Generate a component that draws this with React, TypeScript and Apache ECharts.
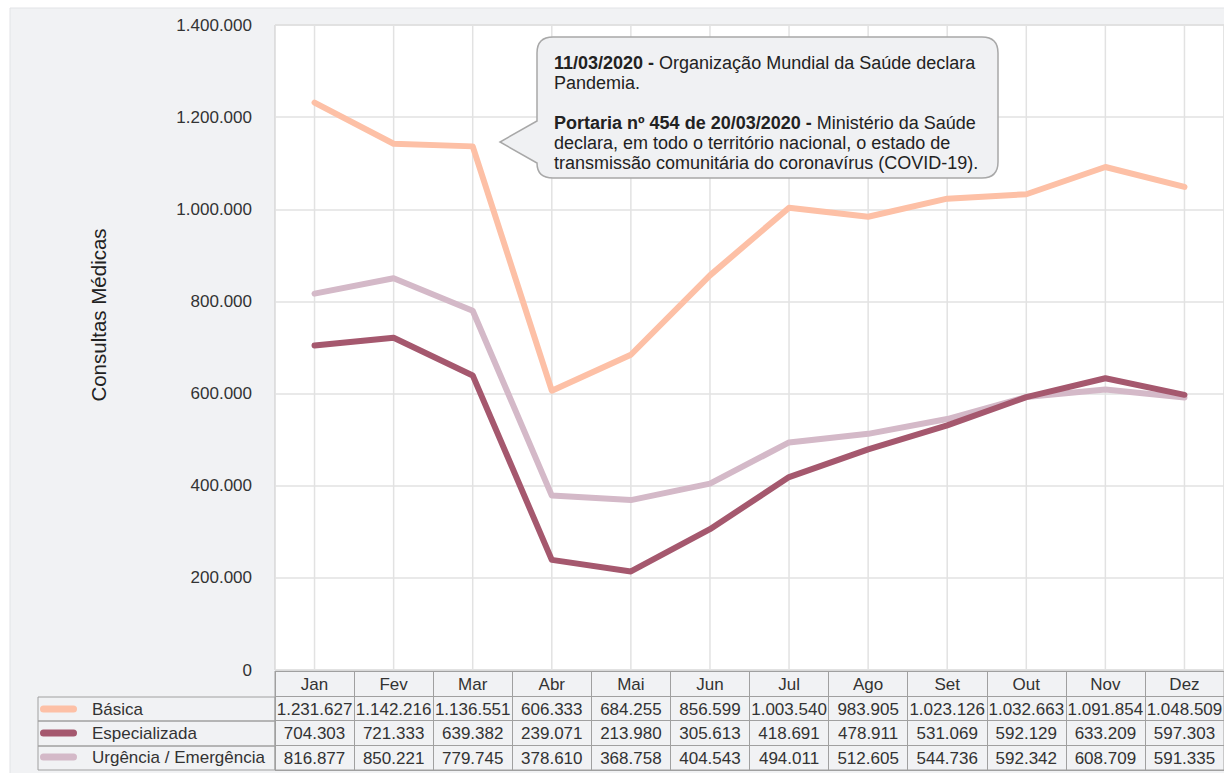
import React, { useEffect, useRef } from "react";
import * as echarts from "echarts";

const months = ["Jan", "Fev", "Mar", "Abr", "Mai", "Jun", "Jul", "Ago", "Set", "Out", "Nov", "Dez"];
const basica = [1231627, 1142216, 1136551, 606333, 684255, 856599, 1003540, 983905, 1023126, 1032663, 1091854, 1048509];
const especializada = [704303, 721333, 639382, 239071, 213980, 305613, 418691, 478911, 531069, 592129, 633209, 597303];
const urgencia = [816877, 850221, 779745, 378610, 368758, 404543, 494011, 512605, 544736, 592342, 608709, 591335];
const seriesNames = ["Básica", "Especializada", "Urgência / Emergência"];
const seriesColors = ["#fdc0a6", "#a5586e", "#d4b9c8"];
const yMin = 0;
const yMax = 1400000;
const yInterval = 200000;
const yTitle = "Consultas Médicas";
const noteLines = [
  "{b|11/03/2020 -}{n| Organização Mundial da Saúde declara}",
  "{n|Pandemia.}",
  "{n| }",
  "{b|Portaria nº 454 de 20/03/2020 -}{n| Ministério da Saúde}",
  "{n|declara, em todo o território nacional, o estado de}",
  "{n|transmissão comunitária do coronavírus (COVID-19).}",
];

const FONT = "'Liberation Sans', Arial, Helvetica, sans-serif";
const fmt = (n: number) => String(n).replace(/\B(?=(\d{3})+(?!\d))/g, ".");

const allSeries = [basica, especializada, urgencia];
const tableRows = ["", ...seriesNames];
const cellData: number[][] = [];
const cellTexts: string[] = [];
months.forEach((m, i) => {
  cellData.push([i, 0]);
  cellTexts.push(m);
  allSeries.forEach((s, r) => {
    cellData.push([i, r + 1]);
    cellTexts.push(fmt(s[i]));
  });
});

const calloutPath =
  "M553 37 H982 Q998 37 998 53 V162 Q998 178 982 178 H553 Q537 178 537 163 L500 142 L537 121 V53 Q537 37 553 37 Z";
let registered = false;

export default function App() {
  const ref = useRef<HTMLDivElement>(null);
  useEffect(() => {
    if (!ref.current) return;
    if (!registered) {
      echarts.graphic.registerShape("callout", echarts.graphic.extendPath(calloutPath, {}) as any);
      registered = true;
    }
    const chart = echarts.init(ref.current, null, { renderer: "svg" });
    const option: any = {
      animation: false,
      textStyle: { fontFamily: FONT },
      grid: [
        { left: 275, top: 25, width: 951, height: 645, show: true, backgroundColor: "#ffffff", borderColor: "#c8c8c8", borderWidth: 1 },
        { left: 275, top: 671, width: 951, height: 99, show: true, backgroundColor: "transparent", borderColor: "#a0a0a0", borderWidth: 1 },
      ],
      xAxis: [
        {
          type: "category", gridIndex: 0, data: months, boundaryGap: true,
          axisLine: { show: false }, axisTick: { show: false }, axisLabel: { show: false }, splitLine: { show: false },
        },
        {
          type: "category", gridIndex: 1, data: months, boundaryGap: true,
          axisLine: { show: false }, axisTick: { show: false }, axisLabel: { show: false },
          splitLine: { show: true, interval: 0, lineStyle: { color: "#a0a0a0", width: 1 } },
        },
      ],
      yAxis: [
        {
          type: "value", gridIndex: 0, min: yMin, max: yMax, interval: yInterval,
          axisLine: { show: false }, axisTick: { show: false },
          axisLabel: { fontSize: 17, color: "#333", margin: 23, formatter: (v: number) => fmt(v), fontFamily: FONT },
          splitLine: { show: true, lineStyle: { color: "#e2e2e2", width: 1.5 } },
        },
        {
          type: "category", gridIndex: 1, data: tableRows, inverse: true, boundaryGap: true,
          axisLine: { show: false }, axisTick: { show: false }, axisLabel: { show: false },
          splitLine: { show: true, interval: 0, lineStyle: { color: "#a0a0a0", width: 1 } },
        },
      ],
      legend: {
        orient: "vertical", left: 40, top: 697, padding: 0, itemGap: 0,
        itemWidth: 37, itemHeight: 7, selectedMode: false,
        icon: "path://M3.5,0 H33.5 A3.5,3.5 0 0 1 33.5,7 H3.5 A3.5,3.5 0 0 1 3.5,0 Z",
        textStyle: { fontSize: 17, color: "#333", lineHeight: 24, padding: [0, 0, 0, 10], fontFamily: FONT },
        data: seriesNames,
      },
      series: [
        {
          type: "custom", name: "vgrid", xAxisIndex: 0, yAxisIndex: 0, z: 1, silent: true,
          data: months.map((_, i) => [i, 0]),
          renderItem: (params: any, api: any) => {
            const x = api.coord([api.value(0), 0])[0];
            const cs = params.coordSys;
            return {
              type: "line",
              shape: { x1: x, y1: cs.y, x2: x, y2: cs.y + cs.height },
              style: { stroke: "#e2e2e2", lineWidth: 1.5 },
            };
          },
        },
        ...allSeries.map((s, k) => ({
          type: "line", name: seriesNames[k], xAxisIndex: 0, yAxisIndex: 0, data: s,
          color: seriesColors[k], symbol: "none", z: 3 - k,
          lineStyle: { width: 6, color: seriesColors[k], cap: "round", join: "round" },
        })),
        {
          type: "custom", name: "table", xAxisIndex: 1, yAxisIndex: 1, silent: true,
          data: cellData,
          renderItem: (params: any, api: any) => {
            const p = api.coord([api.value(0), api.value(1)]);
            return {
              type: "text", x: p[0], y: p[1] + 1,
              style: { text: cellTexts[params.dataIndex], textAlign: "center", textVerticalAlign: "middle", fontSize: 17, fill: "#333", fontFamily: FONT },
            };
          },
        },
      ],
      graphic: [
        { type: "rect", z: -100, shape: { x: 10, y: 8, width: 1230, height: 780 }, style: { fill: "#f1f2f4", stroke: "#e2e3e6", lineWidth: 1 } },
        { type: "rect", z: 10, shape: { x: 38, y: 697, width: 237, height: 24 }, style: { fill: "none", stroke: "#a0a0a0", lineWidth: 1 } },
        { type: "rect", z: 10, shape: { x: 38, y: 721, width: 237, height: 25 }, style: { fill: "none", stroke: "#a0a0a0", lineWidth: 1 } },
        { type: "rect", z: 10, shape: { x: 38, y: 746, width: 237, height: 24 }, style: { fill: "none", stroke: "#a0a0a0", lineWidth: 1 } },
        {
          type: "text", z: 10, x: 98, y: 315, rotation: Math.PI / 2,
          style: { text: yTitle, fontSize: 20.5, fill: "#222", fontFamily: FONT, textAlign: "center", textVerticalAlign: "middle" },
        },
        { type: "callout", z: 50, x: 0, y: 0, style: { fill: "#f0f1f3", stroke: "#a8a8a8", lineWidth: 1.5 } },
        {
          type: "text", z: 51, x: 554, y: 53,
          style: {
            text: noteLines.join("\n"),
            fontSize: 18, lineHeight: 20, fill: "#222", fontFamily: FONT,
            rich: {
              b: { fontSize: 18, lineHeight: 20, fontWeight: "bold", fill: "#222", fontFamily: FONT },
              n: { fontSize: 18, lineHeight: 20, fill: "#222", fontFamily: FONT },
            },
          },
        },
      ],
    };
    chart.setOption(option);
    return () => chart.dispose();
  }, []);
  return <div ref={ref} style={{ position: "fixed", left: 0, top: 0, width: 1224, height: 773, background: "#fff" }} />;
}
